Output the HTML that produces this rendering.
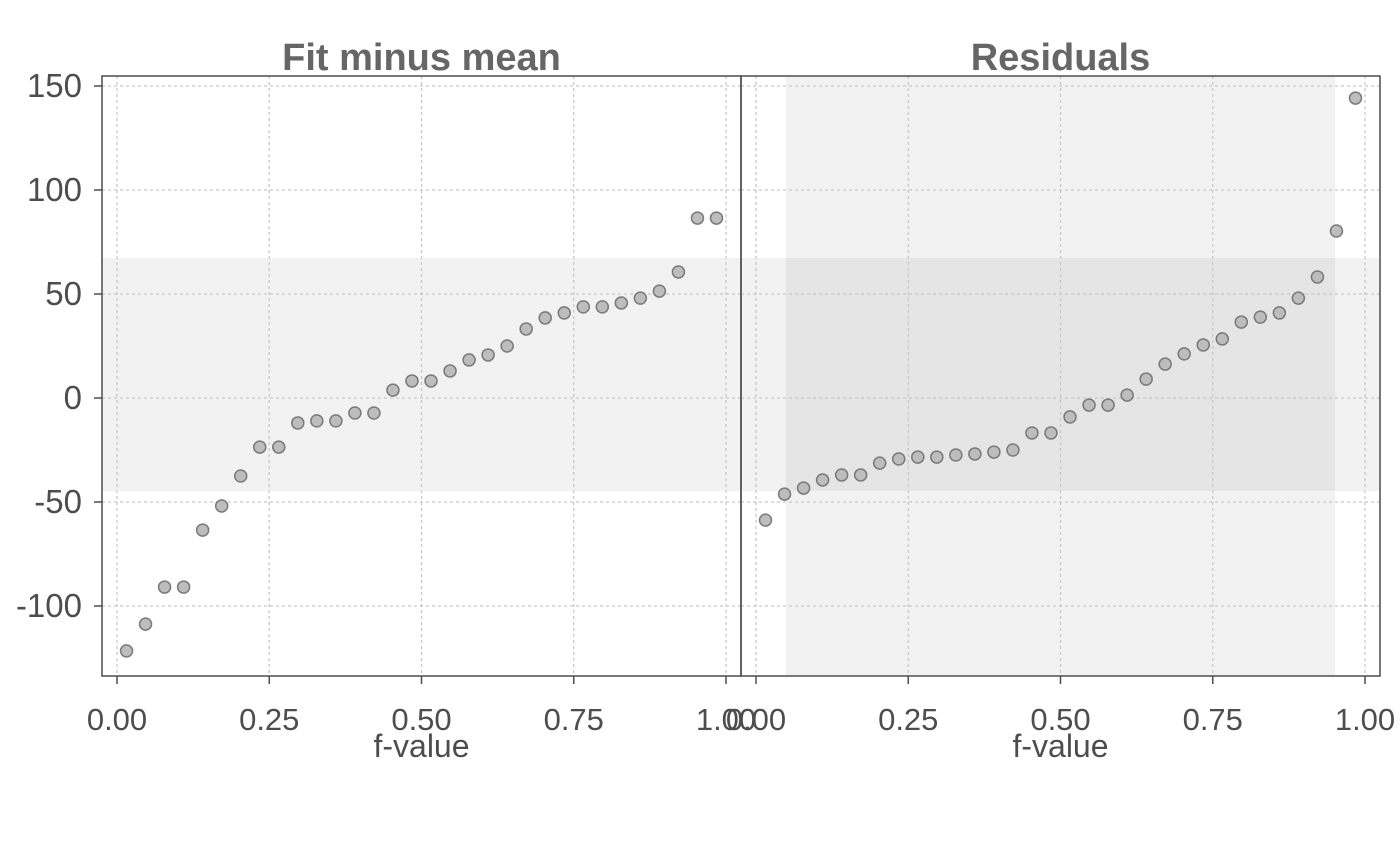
<!DOCTYPE html>
<html><head><meta charset="utf-8"><style>
html,body{margin:0;padding:0;background:#fff;}
svg{display:block;font-family:"Liberation Sans",Arial,sans-serif;}
</style></head><body>
<svg id="chart" width="1400" height="866"></svg>
<script>
const fitValues=[-121.6,-108.7,-90.9,-90.9,-63.5,-51.9,-37.5,-23.6,-23.6,-12,-11,-11,-7.2,-7.2,3.8,8.2,8.2,13,18.3,20.7,25,33.2,38.5,40.9,43.8,43.8,45.7,48,51.4,60.6,86.5,86.5];
const residValues=[-58.7,-46.2,-43.3,-39.4,-37,-37,-31.3,-29.3,-28.4,-28.4,-27.4,-26.9,-26,-25,-16.8,-16.8,-9.1,-3.4,-3.4,1.4,9.1,16.3,21.2,25.5,28.4,36.5,38.9,40.9,48,58.2,80.3,144.2];
const yTicks=[-100,-50,0,50,100,150];
const xTicks=[0,0.25,0.5,0.75,1];
const xTickLabels=["0.00","0.25","0.50","0.75","1.00"];
const panelTitles=["Fit minus mean","Residuals"];
const fitBand=[-44.7,67.3];
const residBand=[0.049,0.951];

const NS="http://www.w3.org/2000/svg";
const svg=document.getElementById('chart');
function mk(tag,attrs,parent){const e=document.createElementNS(NS,tag);for(const k in attrs)e.setAttribute(k,attrs[k]);(parent||svg).appendChild(e);return e;}
const plotTop=76,plotBottom=676;
const yScale=v=>398-v*2.08;
const panels=[{x0:102,x1:741,fx0:117,fx1:726},{x0:741,x1:1380,fx0:756,fx1:1365}];
const grey="#4d4d4d";
panels.forEach((p,pi)=>{
  const r=mk('rect',{x:p.x0,y:yScale(fitBand[1]),width:p.x1-p.x0,height:yScale(fitBand[0])-yScale(fitBand[1]),fill:'#f2f2f2'});
  
  
});
{
  const p=panels[1];const xs=f=>p.fx0+f*(p.fx1-p.fx0);
  const r=mk('rect',{x:xs(residBand[0]),y:plotTop,width:xs(residBand[1])-xs(residBand[0]),height:plotBottom-plotTop,fill:'#f2f2f2'});
  
  
  const r2=mk('rect',{x:xs(residBand[0]),y:yScale(fitBand[1]),width:xs(residBand[1])-xs(residBand[0]),height:yScale(fitBand[0])-yScale(fitBand[1]),fill:'#e5e5e5'});
  
  
}
panels.forEach((p,pi)=>{
  const xs=f=>p.fx0+f*(p.fx1-p.fx0);
  xTicks.forEach(t=>{const l=mk('line',{x1:xs(t),x2:xs(t),y1:plotTop,y2:plotBottom,stroke:'#c8c8c8','stroke-width':1.3,'stroke-dasharray':'3,3'});
    
    });
  yTicks.forEach(t=>{const l=mk('line',{x1:p.x0,x2:p.x1,y1:yScale(t),y2:yScale(t),stroke:'#c8c8c8','stroke-width':1.3,'stroke-dasharray':'3,3'});
    
    });
  const vals=pi===0?fitValues:residValues;const n=vals.length;
  vals.forEach((v,i)=>{const c=mk('circle',{cx:xs((i+0.5)/n),cy:yScale(v),r:6,fill:'#bdbdbd',stroke:'#7a7a7a','stroke-width':1.5});
    
    });
  const f=mk('rect',{x:p.x0,y:plotTop,width:p.x1-p.x0,height:plotBottom-plotTop,fill:'none',stroke:grey,'stroke-width':1.5});
  
  
  xTicks.forEach((t,i)=>{
    mk('line',{x1:xs(t),x2:xs(t),y1:plotBottom,y2:plotBottom+8,stroke:grey,'stroke-width':1.5});
    const tx=mk('text',{x:xs(t),y:plotBottom+54,'text-anchor':'middle','font-size':31,fill:grey});
    tx.textContent=xTickLabels[i];
    
    
  });
  const xl=mk('text',{x:(p.x0+p.x1)/2,y:757,'text-anchor':'middle','font-size':32,fill:grey});
  xl.textContent='f-value';
  
  
  const tt=mk('text',{x:(p.x0+p.x1)/2,y:70,'text-anchor':'middle','font-size':38,'font-weight':'bold',fill:'#666'});
  tt.textContent=panelTitles[pi];
  
  
});
yTicks.forEach(t=>{
  mk('line',{x1:94,x2:102,y1:yScale(t),y2:yScale(t),stroke:grey,'stroke-width':1.5});
  const tx=mk('text',{x:82,y:yScale(t)+11,'text-anchor':'end','font-size':33,fill:grey});
  tx.textContent=String(t);
  
  
});
</script>
</body></html>
